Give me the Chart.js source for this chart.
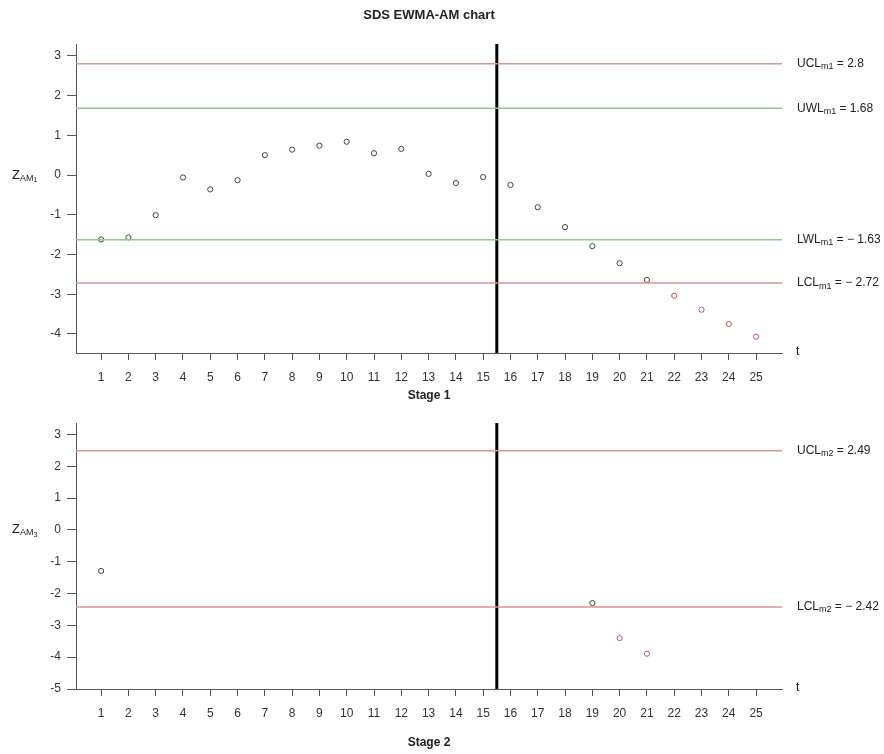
<!DOCTYPE html>
<html>
<head>
<meta charset="utf-8">
<script src="https://cdn.jsdelivr.net/npm/chart.js@4/dist/chart.umd.min.js"></script>
<style>
  body { margin: 0; background: #fff; }
  #wrap { position: relative; width: 884px; height: 754px; }
  canvas { position: absolute; left: 0; }
</style>
</head>
<body>
<div id="wrap">
  <canvas id="stage1" width="884" height="406" style="top:0"></canvas>
  <canvas id="stage2" width="884" height="348" style="top:406px"></canvas>
</div>
<script>
// Data
const t = [1, 2, 3, 4, 5, 6, 7, 8, 9, 10, 11, 12, 13, 14, 15, 16, 17, 18, 19, 20, 21, 22, 23, 24, 25];
const zStage1 = [-1.62, -1.57, -1.01, -0.06, -0.36, -0.13, 0.50, 0.64, 0.74, 0.84, 0.55, 0.66, 0.03,
                 -0.20, -0.05, -0.25, -0.81, -1.31, -1.79, -2.22, -2.64, -3.04, -3.39, -3.75, -4.07];
const tStage2 = [1, 19, 20, 21];
const zStage2 = [-1.29, -2.30, -3.40, -3.89];

// control / warning limits
const limits1 = { UCL: 2.8, UWL: 1.68, LWL: -1.63, LCL: -2.72 };
const limits2 = { UCL: 2.49, LCL: -2.42 };
const changePoint = 15.5;

const FONT = "'Liberation Sans', Arial, sans-serif";
const RED_LINE = 'rgb(214,150,150)';
const GREEN_LINE = 'rgb(140,205,140)';
const RED_PT = 'rgb(196,86,86)';
const DARK_PT = '#444';

const xMin = 0.08, xMax = 25.95;

function hline(y, color) {
    return {
        type: 'line', data: [{ x: xMin, y: y }, { x: xMax, y: y }],
        borderColor: color, borderWidth: 1.5, pointRadius: 0, showLine: true
    };
}

// draw "main" + subscript + rest, left aligned
function drawSubText(ctx, x, y, main, sub, rest, size, subSub) {
    ctx.textBaseline = 'middle';
    ctx.textAlign = 'left';
    ctx.font = size + 'px ' + FONT;
    ctx.fillText(main, x, y);
    x += ctx.measureText(main).width;
    const ss = Math.round(size * 0.72);
    ctx.font = ss + 'px ' + FONT;
    ctx.fillText(sub, x, y + 3);
    x += ctx.measureText(sub).width;
    if (subSub) {
        ctx.font = Math.round(size * 0.5) + 'px ' + FONT;
        ctx.fillText(subSub, x, y + 5);
        x += ctx.measureText(subSub).width;
    }
    if (rest) {
        ctx.font = size + 'px ' + FONT;
        ctx.fillText(rest, x, y);
    }
}

function fmtVal(v) {
    return v < 0 ? '\u2212 ' + Math.abs(v) : String(v);
}

function makeChart(id, opts) {
    const datasets = [];
    Object.keys(opts.limits).forEach(k => {
        const color = (k === 'UWL' || k === 'LWL') ? GREEN_LINE : RED_LINE;
        datasets.push(hline(opts.limits[k], color));
    });
    // change point
    datasets.push({
        type: 'line', data: [{ x: changePoint, y: opts.yMin }, { x: changePoint, y: opts.yMax }],
        borderColor: '#000', borderWidth: 3, pointRadius: 0, showLine: true
    });
    const pts = opts.xs.map((x, i) => ({ x: x, y: opts.ys[i] }));
    datasets.push({
        type: 'scatter', data: pts, showLine: false,
        pointRadius: 2.6, pointBorderWidth: 1,
        pointBackgroundColor: 'rgba(0,0,0,0)',
        pointBorderColor: pts.map(p => (p.y > opts.limits.UCL || p.y < opts.limits.LCL) ? RED_PT : DARK_PT)
    });

    const labelsPlugin = {
        id: 'labels_' + id,
        afterDraw(chart) {
            const ctx = chart.ctx;
            const area = chart.chartArea;
            const ys = chart.scales.y;
            const cx = (area.left + area.right) / 2;
            ctx.save();
            ctx.fillStyle = '#222';
            if (opts.title) {
                ctx.font = 'bold 13px ' + FONT;
                ctx.textAlign = 'center';
                ctx.textBaseline = 'middle';
                ctx.fillText(opts.title, cx, 15);
            }
            ctx.font = 'bold 12px ' + FONT;
            ctx.textAlign = 'center';
            ctx.textBaseline = 'middle';
            ctx.fillText(opts.stage, cx, opts.stageY);
            // t label
            ctx.font = '12px ' + FONT;
            ctx.textAlign = 'left';
            ctx.fillText('t', 796, area.bottom - 1);
            // y label
            drawSubText(ctx, 12, ys.getPixelForValue(0), 'Z', 'AM', '', 13, opts.ySub);
            // limit labels on the right
            Object.keys(opts.limits).forEach(k => {
                const v = opts.limits[k];
                drawSubText(ctx, 797, ys.getPixelForValue(v), k, opts.sub, ' = ' + fmtVal(v), 12);
            });
            ctx.restore();
        }
    };

    return new Chart(document.getElementById(id), {
        type: 'scatter',
        data: { datasets: datasets },
        options: {
            responsive: false,
            animation: false,
            layout: { padding: { top: opts.padTop, right: 102, left: 0, bottom: 0 } },
            plugins: { legend: { display: false }, tooltip: { enabled: false } },
            scales: {
                x: {
                    type: 'linear', min: xMin, max: xMax,
                    afterFit: s => { s.height = opts.xAxisH; },
                    grid: { drawOnChartArea: false, drawTicks: true, tickLength: 7, color: '#555' },
                    border: { color: '#555', width: 1 },
                    ticks: {
                        stepSize: 1, includeBounds: false, autoSkip: false, maxRotation: 0,
                        padding: 10, color: '#333', font: { size: 12, family: FONT }
                    }
                },
                y: {
                    type: 'linear', min: opts.yMin, max: opts.yMax,
                    afterFit: s => { s.width = 76; },
                    grid: { drawOnChartArea: false, drawTicks: true, tickLength: 9, color: '#555' },
                    border: { color: '#555', width: 1 },
                    ticks: {
                        stepSize: 1, includeBounds: false, padding: 6,
                        color: '#333', font: { size: 12, family: FONT }
                    }
                }
            }
        },
        plugins: [labelsPlugin]
    });
}

makeChart('stage1', {
    title: 'SDS EWMA-AM chart', stage: 'Stage 1', stageY: 396,
    xs: t, ys: zStage1, limits: limits1, sub: 'm1', ySub: '1',
    yMin: -4.48, yMax: 3.3, padTop: 44, xAxisH: 53
});
makeChart('stage2', {
    title: null, stage: 'Stage 2', stageY: 337,
    xs: tStage2, ys: zStage2, limits: limits2, sub: 'm2', ySub: '3',
    yMin: -5, yMax: 3.36, padTop: 17, xAxisH: 65
});
</script>
</body>
</html>
